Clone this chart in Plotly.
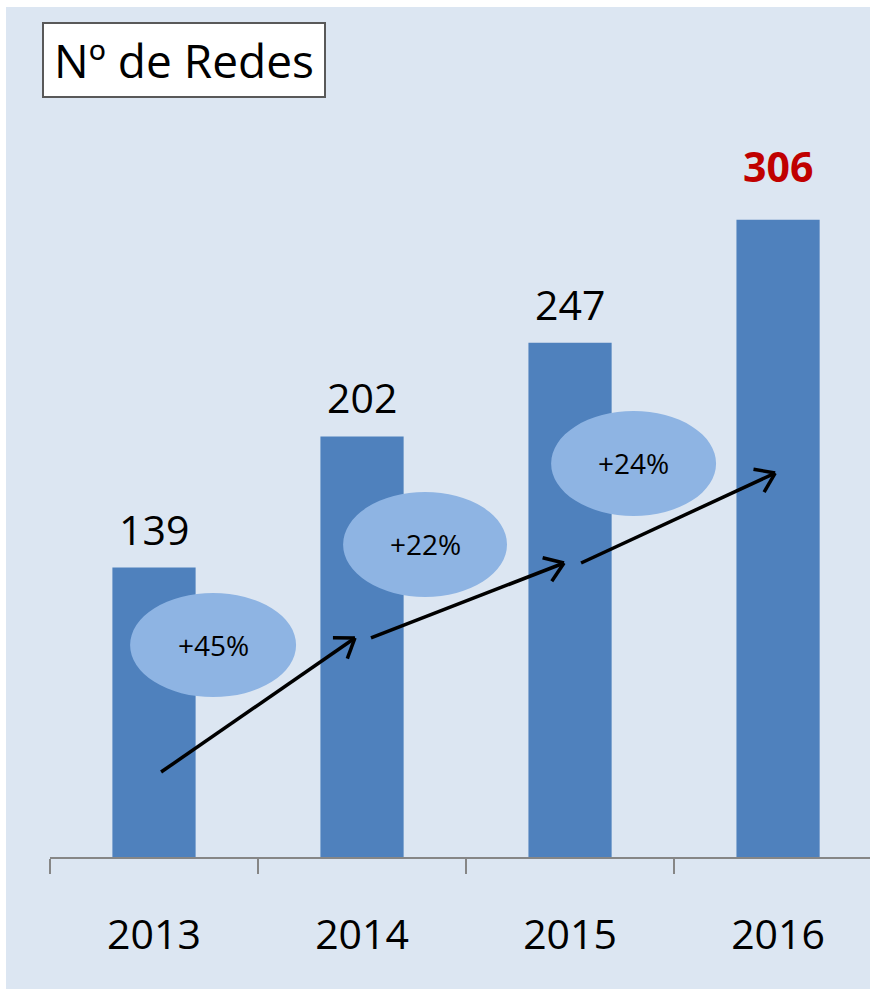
import math
import plotly.graph_objects as go

# ---- data ----
years = ["2013", "2014", "2015", "2016"]
redes = [139, 202, 247, 306]
growth_labels = ["+45%", "+22%", "+24%"]
title_text = "Nº de Redes"

# ---- layout constants ----
W, H = 870, 989
ML, MR, MT, MB = 50, 0, 0, 132
PW, PH = W - ML - MR, H - MT - MB
X0, X1 = -0.5, 3.442
Y0, Y1 = 0, 411.6
sx = PW / (X1 - X0)
sy = PH / (Y1 - Y0)

bar_color = "#4F81BD"
ell_color = "#8EB4E3"
bg_color = "#DCE6F2"
font = "Open Sans"

fig = go.Figure()
fig.add_trace(go.Bar(x=years, y=redes, marker=dict(color=bar_color, line=dict(width=0)),
                     width=0.4, hoverinfo="skip"))

shapes = []
# light background panel
shapes.append(dict(type="rect", xref="paper", yref="paper",
                   x0=(6 - ML) / PW, x1=1.2, y0=-0.2, y1=(PH - 7) / PH,
                   fillcolor=bg_color, line=dict(width=0), layer="below"))

# growth ellipses (between consecutive bars), data coords
ellipses = [(-0.115, 0.683, 76.8, 126.8), (0.909, 1.697, 124.9, 175.3), (1.909, 2.702, 163.8, 214.2)]
annotations = []
for (ex0, ex1, ey0, ey1), lab in zip(ellipses, growth_labels):
    shapes.append(dict(type="circle", xref="x", yref="y", x0=ex0, x1=ex1, y0=ey0, y1=ey1,
                       fillcolor=ell_color, line=dict(width=0), layer="above"))
    annotations.append(dict(x=(ex0 + ex1) / 2, y=(ey0 + ey1) / 2, xref="x", yref="y",
                            text=lab, showarrow=False, font=dict(family=font, size=28, color="black")))

# arrows
arrows = [(0.034, 40.8, 0.966, 105.2), (1.043, 105.2, 1.971, 141.2), (2.053, 141.2, 2.986, 184.4)]
for ax0, ay0, ax1, ay1 in arrows:
    shapes.append(dict(type="line", xref="x", yref="y", x0=ax0, y0=ay0, x1=ax1, y1=ay1,
                       line=dict(color="black", width=3.5)))
    dxp = (ax1 - ax0) * sx
    dyp = (ay1 - ay0) * sy
    ang = math.atan2(dyp, dxp)
    L = 22
    for da in (math.radians(35), -math.radians(35)):
        bx = ax1 - L * math.cos(ang + da) / sx
        by = ay1 - L * math.sin(ang + da) / sy
        shapes.append(dict(type="line", xref="x", yref="y", x0=ax1, y0=ay1, x1=bx, y1=by,
                           line=dict(color="black", width=3.5)))

# value labels
for i, (yr, v) in enumerate(zip(years, redes)):
    last = i == len(redes) - 1
    annotations.append(dict(x=i, y=v, xref="x", yref="y", text=f"<b>{v}</b>" if last else str(v),
                            showarrow=False, yanchor="middle",
                            yshift=54 if last else 39,
                            font=dict(family=font, size=41, color="#C00000" if last else "black")))

# title box
annotations.append(dict(x=(184 - ML) / PW, y=(PH - 60) / PH, xref="paper", yref="paper",
                        text=title_text, showarrow=False, xanchor="center", yanchor="middle",
                        width=280, height=72, bgcolor="white", bordercolor="#595959",
                        borderwidth=2, borderpad=0,
                        font=dict(family=font, size=46, color="black")))

fig.update_layout(
    width=W, height=H, margin=dict(l=ML, r=MR, t=MT, b=MB),
    paper_bgcolor="white", plot_bgcolor="rgba(0,0,0,0)",
    showlegend=False, shapes=shapes, annotations=annotations,
    xaxis=dict(type="category", range=[X0, X1], showline=True, linecolor="#868686", linewidth=1.5,
               ticks="outside", tickson="boundaries", ticklen=15, tickcolor="#868686", tickwidth=1.5,
               showgrid=False, zeroline=False, ticklabelstandoff=41,
               tickfont=dict(family=font, size=41, color="black")),
    yaxis=dict(range=[Y0, Y1], visible=False, showgrid=False, zeroline=False),
)

fig.write_html("out.html", config={"displayModeBar": False},
               post_script="document.body.style.margin='0';document.body.style.overflow='hidden';")
